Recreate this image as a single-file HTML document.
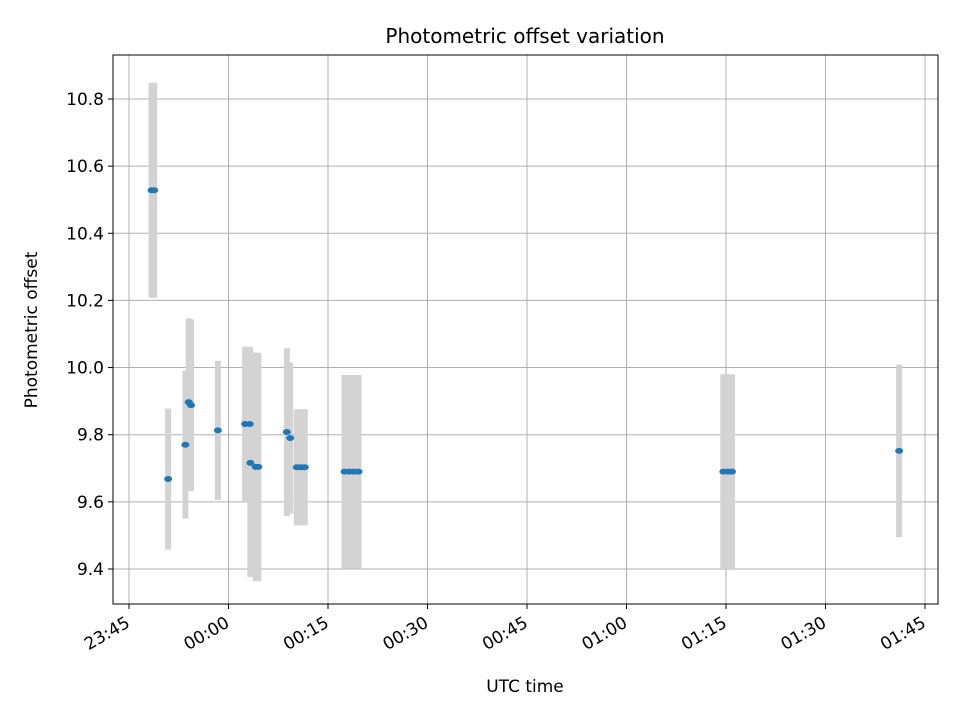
<!DOCTYPE html>
<html><head><meta charset="utf-8"><style>
body{margin:0;background:#fff}
svg text{font-family:"DejaVu Sans","Liberation Sans",sans-serif;fill:#000}
</style></head><body>
<svg id="chart" width="960" height="720" viewBox="0 0 960 720" xmlns="http://www.w3.org/2000/svg">
<rect width="960" height="720" fill="#fff"/>
<text x="525" y="43" font-size="20" text-anchor="middle">Photometric offset variation</text>
<g id="grid"></g><g id="bars"></g><g id="dots"></g><g id="axes"></g>
<text x="525" y="692" font-size="17" text-anchor="middle">UTC time</text>
<text transform="translate(37,330) rotate(-90)" font-size="17" text-anchor="middle">Photometric offset</text>
</svg>
<script>
// minutes after 23:45
const times = [3.4,3.8,5.9,8.5,9.0,9.35,13.4,17.5,18.2,18.3,19.1,19.5,23.8,24.3,25.3,25.9,26.5,32.5,33.2,33.9,34.6,89.6,90.3,90.9,116.1];
const values = [10.528,10.528,9.668,9.77,9.897,9.888,9.813,9.832,9.832,9.716,9.704,9.704,9.808,9.79,9.703,9.703,9.703,9.69,9.69,9.69,9.69,9.69,9.69,9.69,9.752];
const errors = [0.32,0.32,0.21,0.22,0.25,0.256,0.207,0.23,0.23,0.34,0.34,0.34,0.25,0.225,0.173,0.173,0.173,0.288,0.288,0.288,0.288,0.29,0.29,0.29,0.257];
const xTickMins = [0,15,30,45,60,75,90,105,120];
const xTickLabels = ["23:45","00:00","00:15","00:30","00:45","01:00","01:15","01:30","01:45"];
const yTicks = [9.4,9.6,9.8,10.0,10.2,10.4,10.6,10.8];

const L=113,R=938,T=55,B=604;
const xs = m => 129 + m*99.5/15;
const ys = v => 99 + (10.8 - v)*335.7;
const NS="http://www.w3.org/2000/svg";
function mk(tag, attrs, parent){const e=document.createElementNS(NS,tag);for(const k in attrs)e.setAttribute(k,attrs[k]);document.getElementById(parent).appendChild(e);return e;}

xTickMins.forEach((m,i)=>{
  const x=xs(m);
  const g=mk('line',{x1:x,x2:x,y1:T,y2:B,stroke:'#b0b0b0','stroke-width':1},'grid');
  
  
  const t=mk('line',{x1:x,x2:x,y1:B,y2:B+5,stroke:'#000','stroke-width':1},'axes');
  
  
  const lb=mk('text',{'font-size':17,'text-anchor':'end',transform:`translate(${x+2},${B+22}) rotate(-30)`},'axes');
  lb.textContent=xTickLabels[i];
  
  
});
yTicks.forEach(v=>{
  const y=ys(v);
  const g=mk('line',{x1:L,x2:R,y1:y,y2:y,stroke:'#b0b0b0','stroke-width':1},'grid');
  
  
  const t=mk('line',{x1:L-5,x2:L,y1:y,y2:y,stroke:'#000','stroke-width':1},'axes');
  
  
  const lb=mk('text',{x:L-9,y:y+6,'font-size':17,'text-anchor':'end'},'axes');
  lb.textContent=v.toFixed(1);
  
  
});
const fr=mk('rect',{x:L,y:T,width:R-L,height:B-T,fill:'none',stroke:'#000','stroke-width':1},'axes');



times.forEach((m,i)=>{
  const x=xs(m);
  const b=mk('line',{x1:x,x2:x,y1:ys(values[i]+errors[i]),y2:ys(values[i]-errors[i]),stroke:'#d3d3d3','stroke-width':6},'bars');
  
  
});
times.forEach((m,i)=>{
  const d=mk('ellipse',{cx:xs(m),cy:ys(values[i]),rx:4,ry:3,fill:'#1f77b4'},'dots');
  
  
});
</script>
</body></html>
